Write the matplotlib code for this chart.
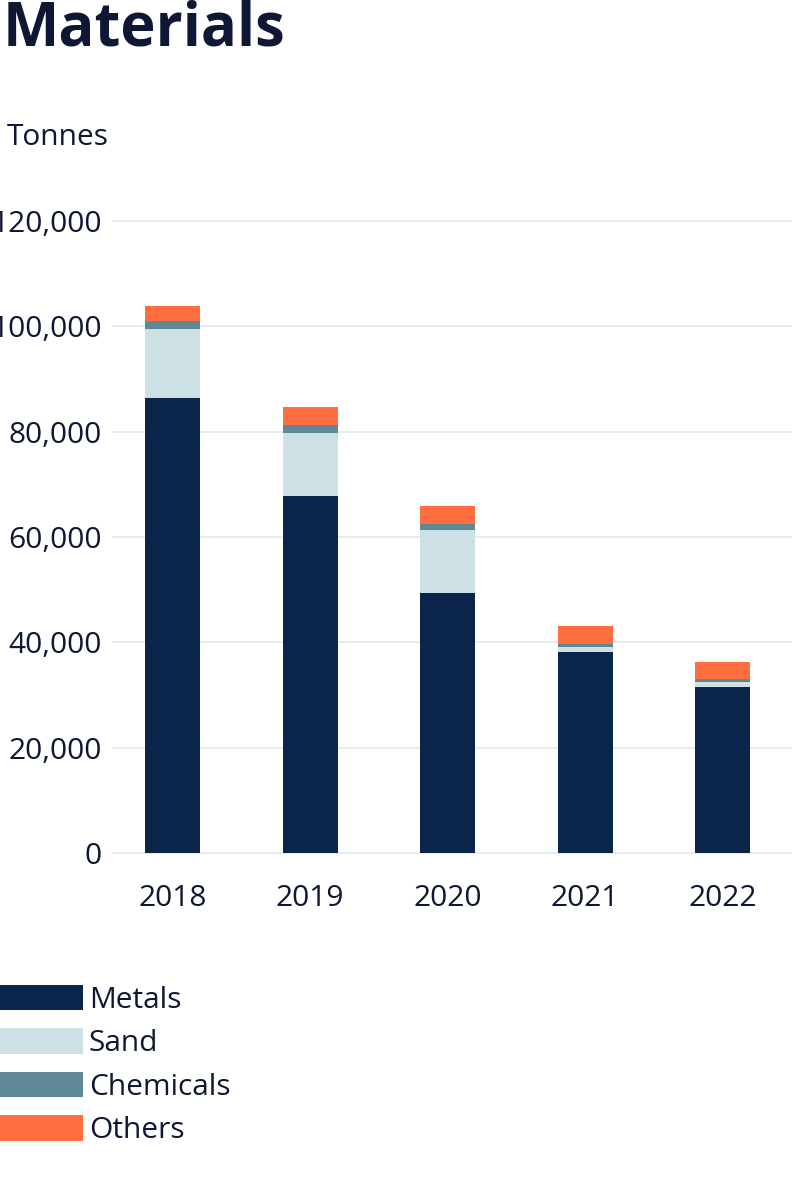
import numpy as np
import matplotlib
matplotlib.use('Agg')
import matplotlib.pyplot as plt

# ── Data (tonnes) ─────────────────────────────────────────────────
years = ["2018", "2019", "2020", "2021", "2022"]
metals = [86400, 67700, 49400, 38200, 31600]
sand = [13000, 12100, 12000, 900, 800]
chemicals = [1500, 1400, 1100, 600, 700]
others = [3000, 3500, 3400, 3500, 3200]
yticks = [0, 20000, 40000, 60000, 80000, 100000, 120000]

series = [("Metals", metals, '#0b2449'),
          ("Sand", sand, '#cde0e3'),
          ("Chemicals", chemicals, '#5f8896'),
          ("Others", others, '#ff6e3e')]

TXT = '#0e1733'
FS = 21.5
plt.rcParams['font.family'] = ['Open Sans', 'DejaVu Sans']

W, H = 792, 1192
fig = plt.figure(figsize=(W / 100, H / 100), dpi=100)
ax = fig.add_axes([113 / W, (H - 853.3) / H, (W - 113) / W, (853.3 - 220.7) / H])

x = np.arange(len(years))
bottom = np.zeros(len(years))
for name, vals, col in series:
    ax.bar(x, vals, width=0.4, bottom=bottom, color=col, label=name, zorder=3)
    bottom += np.array(vals)

ax.set_ylim(0, 120000)
ax.set_xlim(-0.433, 4.505)
ax.set_yticks(yticks)
ax.set_yticklabels([f"{v:,}" for v in yticks])
ax.set_xticks(x)
ax.set_xticklabels(years)
ax.tick_params(axis='both', length=0, labelsize=FS, labelcolor=TXT)
ax.tick_params(axis='y', pad=8)
ax.tick_params(axis='x', pad=22)
for s in ax.spines.values():
    s.set_visible(False)
ax.grid(axis='y', color='#dcecef', linewidth=1.2, zorder=0)
for gl in ax.get_ygridlines():
    gl.set_clip_on(False)

fig.text(3 / W, (H - 45) / H, "Materials", fontsize=43, fontweight='bold',
         color=TXT, va='baseline', ha='left')
fig.text(7 / W, (H - 145) / H, "Tonnes", fontsize=FS, color=TXT,
         va='baseline', ha='left')

handles, labels = ax.get_legend_handles_labels()
fig.legend(handles, labels, loc='upper left', bbox_to_anchor=(0, (H - 985) / H),
           frameon=False, fontsize=FS, labelcolor=TXT, borderpad=0,
           borderaxespad=0, handlelength=2.77, handleheight=0.93,
           handletextpad=0.2, labelspacing=0.45)

plt.savefig('out.png', dpi=100)
